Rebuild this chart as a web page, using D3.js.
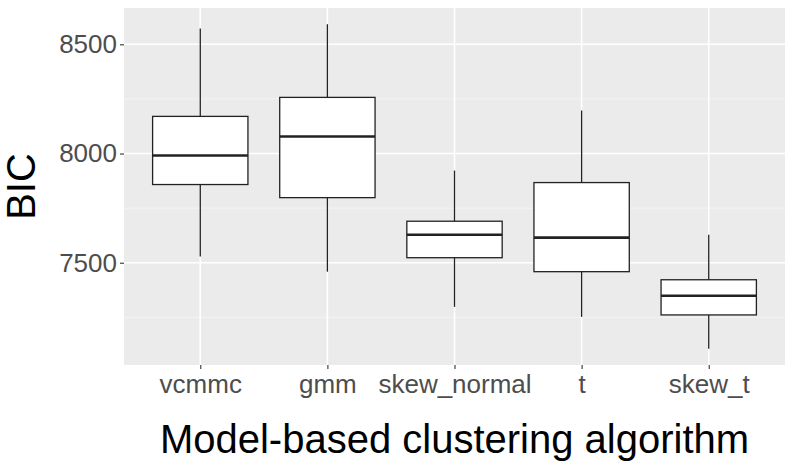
<!DOCTYPE html>
<html>
<head>
<meta charset="utf-8">
<script src="https://cdnjs.cloudflare.com/ajax/libs/d3/7.8.5/d3.min.js"></script>
<style>
  body { margin: 0; background: #fff; }
  svg { display: block; font-family: "Liberation Sans", Arial, sans-serif; }
</style>
</head>
<body>
<svg id="chart" width="792" height="468"></svg>
<script>
// Box plot data per algorithm
var algorithms = ['vcmmc', 'gmm', 'skew_normal', 't', 'skew_t'];
var whiskerLow  = [7528, 7459, 7298, 7252, 7106];
var q1          = [7858, 7798, 7523, 7459, 7261];
var median      = [7991, 8078, 7628, 7615, 7349];
var q3          = [8170, 8257, 7690, 7867, 7422];
var whiskerHigh = [8573, 8592, 7922, 8197, 7628];
var yTicks = [7500, 8000, 8500];
var yMinor = [7250, 7750, 8250];

var svg = d3.select('#chart');
var margin = {left: 124, top: 8, right: 7, bottom: 103};
var w = 792 - margin.left - margin.right;
var h = 468 - margin.top - margin.bottom;

var lo = d3.min(whiskerLow), hi = d3.max(whiskerHigh);
var pad = (hi - lo) * 0.05;
var y = d3.scaleLinear().domain([lo - pad, hi + pad]).range([h, 0]);

// ggplot-style discrete expansion: 0.6 units each side
var x = d3.scalePoint().domain(algorithms).range([0, w]).padding(0.6);
var boxW = x.step() * 0.75;

var g = svg.append('g').attr('transform', 'translate(' + margin.left + ',' + margin.top + ')');

g.append('rect').attr('width', w).attr('height', h).attr('fill', '#EBEBEB');

// minor grid
g.selectAll('.minor').data(yMinor).enter().append('line')
  .attr('x1', 0).attr('x2', w)
  .attr('y1', function(d) { return y(d); }).attr('y2', function(d) { return y(d); })
  .attr('stroke', '#fff').attr('stroke-width', 0.8).attr('opacity', 0.6);

// major grid
g.selectAll('.majorY').data(yTicks).enter().append('line')
  .attr('x1', 0).attr('x2', w)
  .attr('y1', function(d) { return y(d); }).attr('y2', function(d) { return y(d); })
  .attr('stroke', '#fff').attr('stroke-width', 1.6);
g.selectAll('.majorX').data(algorithms).enter().append('line')
  .attr('y1', 0).attr('y2', h)
  .attr('x1', function(d) { return x(d); }).attr('x2', function(d) { return x(d); })
  .attr('stroke', '#fff').attr('stroke-width', 1.6);

var data = algorithms.map(function(a, i) {
  return {name: a, lo: whiskerLow[i], q1: q1[i], med: median[i], q3: q3[i], hi: whiskerHigh[i]};
});

var boxes = g.selectAll('.box').data(data).enter().append('g');
var ink = '#222222';

boxes.append('line')
  .attr('x1', function(d) { return x(d.name); }).attr('x2', function(d) { return x(d.name); })
  .attr('y1', function(d) { return y(d.hi); }).attr('y2', function(d) { return y(d.q3); })
  .attr('stroke', ink).attr('stroke-width', 1.3);
boxes.append('line')
  .attr('x1', function(d) { return x(d.name); }).attr('x2', function(d) { return x(d.name); })
  .attr('y1', function(d) { return y(d.q1); }).attr('y2', function(d) { return y(d.lo); })
  .attr('stroke', ink).attr('stroke-width', 1.3);
boxes.append('rect')
  .attr('x', function(d) { return x(d.name) - boxW / 2; })
  .attr('width', boxW)
  .attr('y', function(d) { return y(d.q3); })
  .attr('height', function(d) { return y(d.q1) - y(d.q3); })
  .attr('fill', '#fff').attr('stroke', ink).attr('stroke-width', 1.3);
boxes.append('line')
  .attr('x1', function(d) { return x(d.name) - boxW / 2; })
  .attr('x2', function(d) { return x(d.name) + boxW / 2; })
  .attr('y1', function(d) { return y(d.med); }).attr('y2', function(d) { return y(d.med); })
  .attr('stroke', ink).attr('stroke-width', 2.6);

// axes
var yAxis = g.append('g').call(d3.axisLeft(y).tickValues(yTicks).tickFormat(d3.format('d')).tickSize(4).tickPadding(3));
var xAxis = g.append('g').attr('transform', 'translate(0,' + h + ')')
  .call(d3.axisBottom(x).tickSize(4).tickPadding(6));
[yAxis, xAxis].forEach(function(ax) {
  ax.select('.domain').remove();
  ax.selectAll('line').attr('stroke', '#333').attr('stroke-width', 1.1);
  ax.selectAll('text').attr('fill', '#4D4D4D').style('font-size', '26px')
    .style('font-family', '"Liberation Sans", Arial, sans-serif');
});

svg.append('text')
  .attr('transform', 'translate(35,' + (margin.top + h / 2) + ') rotate(-90)')
  .attr('text-anchor', 'middle')
  .style('font-size', '40px').attr('fill', '#000')
  .text('BIC');

svg.append('text')
  .attr('x', margin.left + w / 2).attr('y', 453)
  .attr('text-anchor', 'middle')
  .style('font-size', '40px').attr('fill', '#000')
  .text('Model-based clustering algorithm');
</script>
</body>
</html>
